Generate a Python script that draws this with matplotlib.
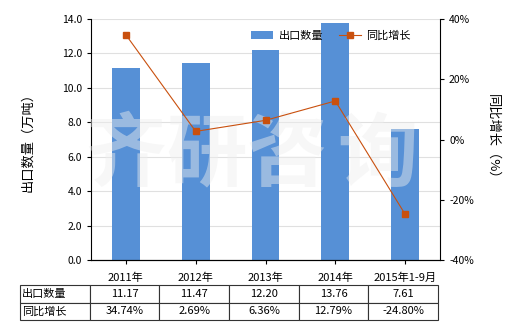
import numpy as np
import matplotlib.pyplot as plt

plt.rcParams['font.family'] = ['Noto Sans CJK SC', 'DejaVu Sans']
plt.rcParams['font.size'] = 7.5

years = ['2011年', '2012年', '2013年', '2014年', '2015年1-9月']
qty = [11.17, 11.47, 12.20, 13.76, 7.61]
growth = [34.74, 2.69, 6.36, 12.79, -24.80]
qty_labels = ['11.17', '11.47', '12.20', '13.76', '7.61']
growth_labels = ['34.74%', '2.69%', '6.36%', '12.79%', '-24.80%']

bar_color = '#5690D6'
line_color = '#C9500E'

fig = plt.figure(figsize=(5.2, 3.3), dpi=100)
ax = fig.add_axes([91/520, 1-260/330, 349/520, 241/330])
x = np.arange(len(years))
ax.bar(x, qty, width=0.4, color=bar_color, zorder=2, label='出口数量')
ax.set_xlim(-0.5, len(years)-0.5)
ax.set_ylim(0, 14)
ax.set_yticks(np.arange(0, 14.1, 2))
ax.set_yticklabels(['%.1f' % v for v in np.arange(0, 14.1, 2)])
ax.yaxis.grid(True, color='#e0e0e0', lw=0.8, zorder=0)
ax.set_xticks(x)
ax.set_xticklabels(years, fontsize=8)
ax.tick_params(length=3, width=0.8)
ax.tick_params(axis='x', pad=6)
ax.spines['top'].set_visible(False)
ax.spines['right'].set_visible(False)
ax.set_ylabel('出口数量（万吨）', fontsize=9.5, labelpad=20)

ax2 = ax.twinx()
ax2.plot(x, growth, color=line_color, lw=0.8, marker='s', ms=4.5, zorder=3, label='同比增长')
ax2.set_ylim(-40, 40)
ax2.set_yticks([-40, -20, 0, 20, 40])
ax2.set_yticklabels(['-40%', '-20%', '0%', '20%', '40%'])
ax2.tick_params(length=3, width=0.8)
ax2.spines['top'].set_visible(False)
ax2.spines['left'].set_visible(False)
ax2.set_ylabel('同比增长（%）', fontsize=9.5, rotation=-90, labelpad=18)

# watermark
for xi, ch in zip([0.1, 0.33, 0.56, 0.82], '齐研咨询'):
    ax.text(xi, 0.43, ch, transform=ax.transAxes, fontsize=58, color='#eeeeee', alpha=0.45,
            ha='center', va='center', fontweight='bold', zorder=4)

h1, l1 = ax.get_legend_handles_labels()
h2, l2 = ax2.get_legend_handles_labels()
ax2.legend(h1 + h2, l1 + l2, ncol=2, frameon=False, loc='upper right',
           bbox_to_anchor=(0.945, 0.995), handlelength=2.0, handletextpad=0.5,
           columnspacing=1.4, fontsize=8)

# data table
cells = [['出口数量'] + qty_labels, ['同比增长'] + growth_labels]
tab = ax.table(cellText=cells, cellLoc='center', colWidths=[70/418] + [70/418]*5,
               bbox=[(20-91)/349, (260-320)/241, 418/349, 35/241])
tab.auto_set_font_size(False)
tab.set_fontsize(8)
for (r, c), cell in tab.get_celld().items():
    cell.set_edgecolor('#333333')
    cell.set_linewidth(0.8)
    if c == 0:
        cell.get_text().set_ha('left')
        cell.PAD = 0.03

fig.savefig('out.png', dpi=100)
